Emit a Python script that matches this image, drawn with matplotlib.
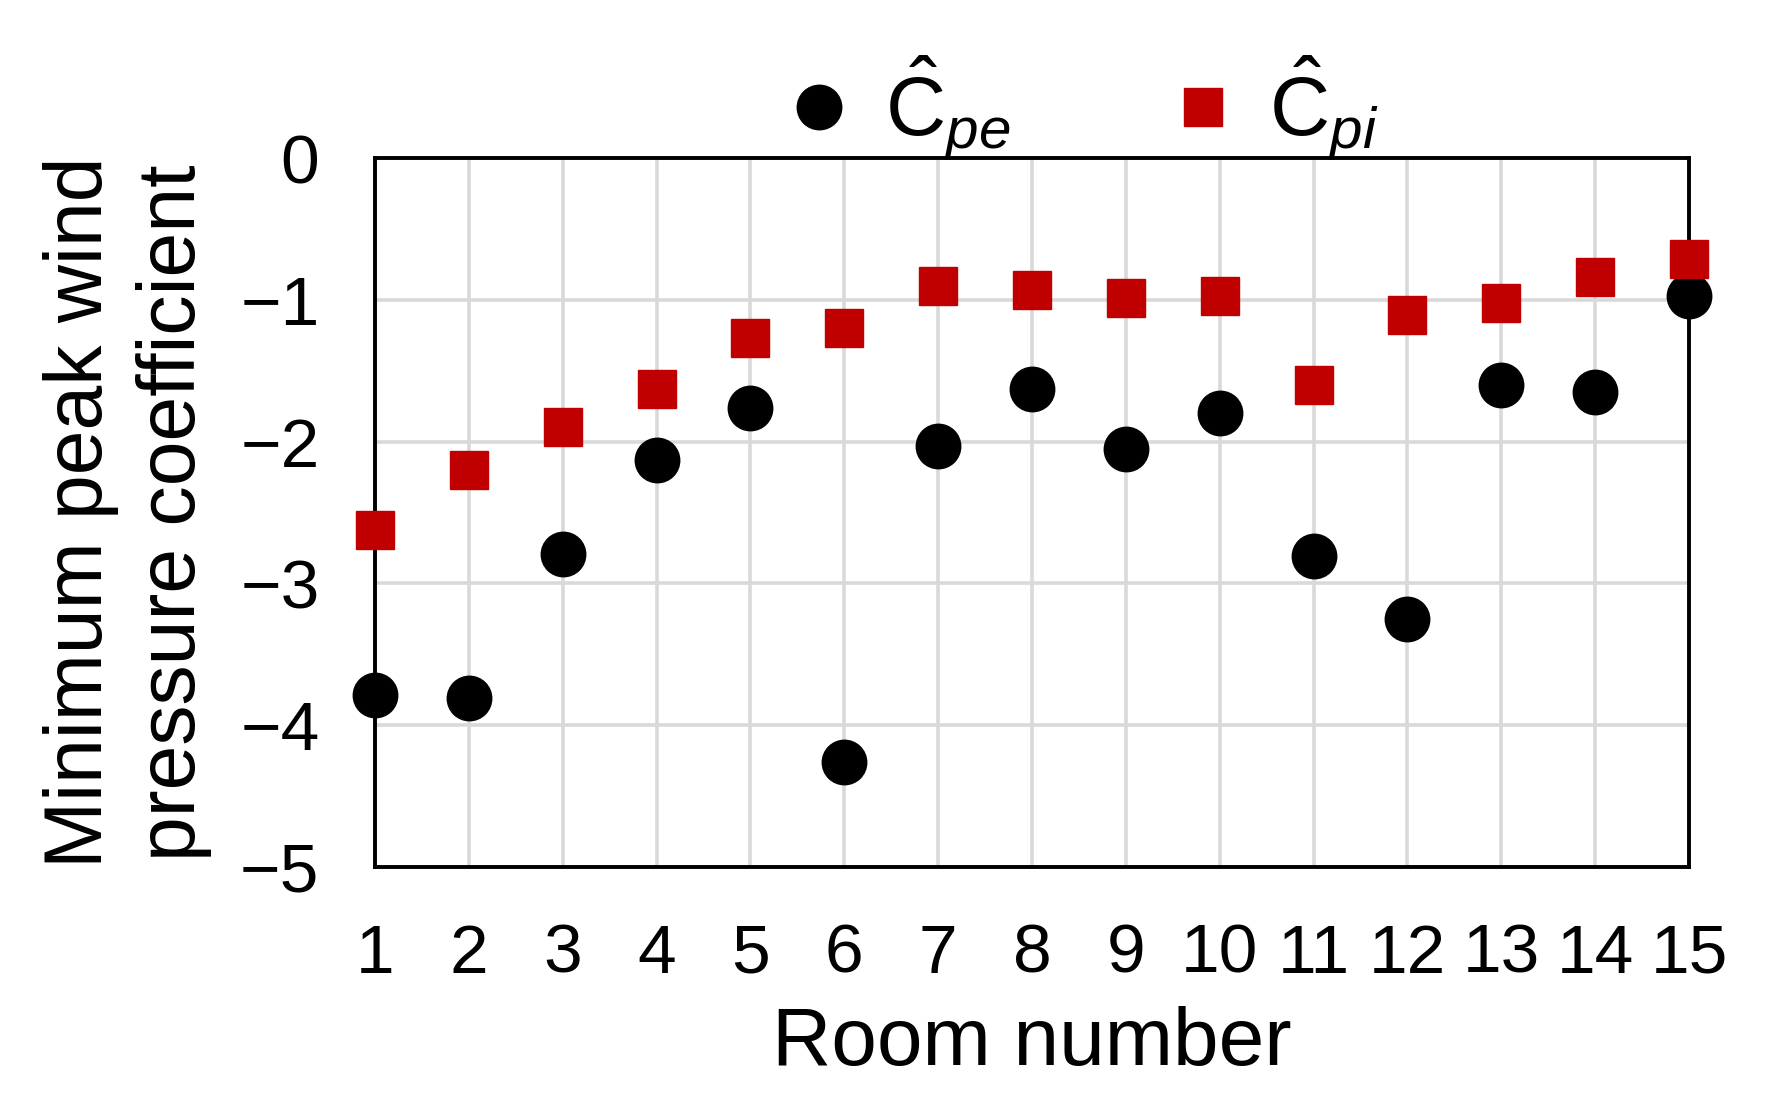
import numpy as np
import matplotlib
matplotlib.use("Agg")
import matplotlib.pyplot as plt

plt.rcParams['font.family'] = ['Liberation Sans', 'DejaVu Sans']
plt.rcParams['mathtext.fontset'] = 'custom'
plt.rcParams['mathtext.rm'] = 'Liberation Sans'
plt.rcParams['mathtext.it'] = 'Liberation Sans:italic'

rooms = list(range(1, 16))
cpe = [-3.79, -3.81, -2.79, -2.13, -1.76, -4.26, -2.03, -1.63, -2.05, -1.80,
       -2.81, -3.25, -1.60, -1.65, -0.97]
cpi = [-2.62, -2.20, -1.90, -1.63, -1.27, -1.20, -0.90, -0.93, -0.99, -0.97,
       -1.60, -1.11, -1.02, -0.84, -0.71]
yticks = [0, -1, -2, -3, -4, -5]

fig = plt.figure(figsize=(17.66, 11.07), dpi=100)
ax = fig.add_axes([375/1766, 1 - 867/1107, (1689-375)/1766, (867-158)/1107])

ax.plot(rooms, cpe, 'o', color='black', markersize=32, clip_on=False, zorder=3,
        label=r'$\hat{\mathrm{C}}_{pe}$')
ax.plot(rooms, cpi, 's', color='#C00000', markersize=28, clip_on=False, zorder=3,
        label=r'$\hat{\mathrm{C}}_{pi}$')

ax.set_xlim(1, 15)
ax.set_ylim(-5, 0)
ax.set_xticks(rooms)
ax.set_yticks(yticks)
ax.grid(True, color='#D9D9D9', linewidth=2.6)
ax.set_axisbelow(True)
for s in ax.spines.values():
    s.set_linewidth(2.8)
    s.set_color('black')
    s.set_zorder(2.5)
ax.tick_params(length=0, labelsize=50, pad=40)

ax.set_xlabel('Room number', fontsize=59, labelpad=14)
ax.set_ylabel('Minimum peak wind\npressure coefficient', fontsize=58,
              labelpad=20, linespacing=1.3)

ax.legend(loc='center', bbox_to_anchor=(0.535, 1.07), ncol=2, frameon=False,
          fontsize=60, handlelength=1.0, handletextpad=0.3, columnspacing=1.8,
          markerscale=1.0)

fig.savefig('out.png', dpi=100)
